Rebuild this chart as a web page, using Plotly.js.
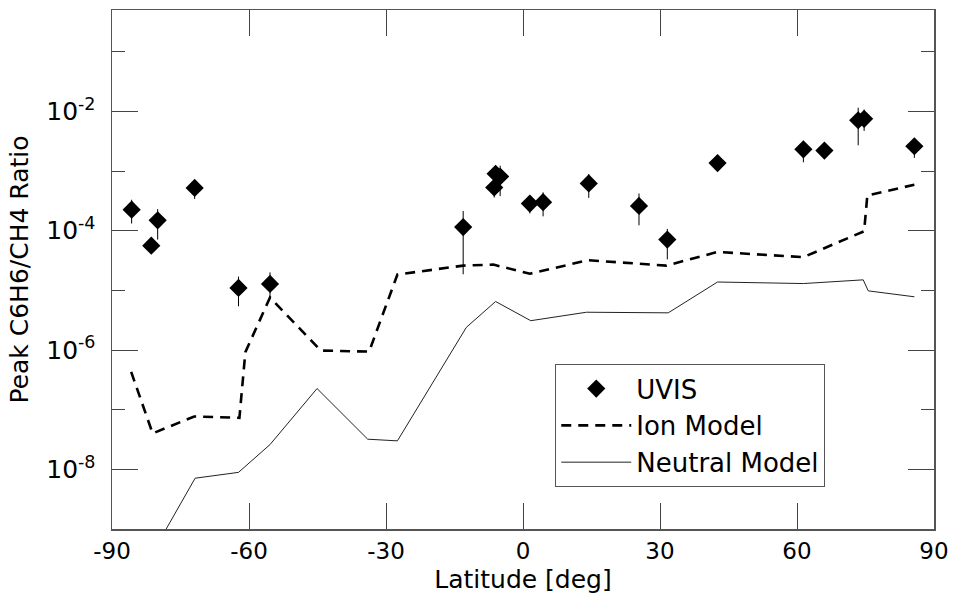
<!DOCTYPE html>
<html>
<head>
<meta charset="utf-8">
<script src="https://cdn.plot.ly/plotly-3.0.1.min.js"></script>
<style>html,body{margin:0;padding:0;background:#fff;}#chart{width:955px;height:594px;}</style>
</head>
<body>
<div id="chart"></div>
<script>
// UVIS observations
var uvisLat = [-85.7, -81.4, -80.0, -71.9, -62.3, -55.4, -13.1, -6.3, -6.0, -5.0, 1.5, 4.4, 14.4, 25.4, 31.6, 42.6, 61.4, 66.0, 73.4, 74.7, 85.7];
var uvisVal = [2.25e-4, 5.6e-5, 1.49e-4, 5.2e-4, 1.1e-5, 1.28e-5, 1.15e-4, 5.3e-4, 9.0e-4, 8.1e-4, 2.85e-4, 3.0e-4, 6.2e-4, 2.6e-4, 7.1e-5, 1.36e-3, 2.31e-3, 2.2e-3, 7.1e-3, 7.5e-3, 2.6e-3];
var uvisHi  = [3.3e-4, 6.3e-5, 2.3e-4, 6.9e-4, 1.7e-5, 2.0e-5, 2.14e-4, 6.5e-4, 1.23e-3, 1.23e-3, 3.6e-4, 4.4e-4, 8.9e-4, 4.2e-4, 1.07e-4, 1.5e-3, 3.2e-3, 2.6e-3, 1.15e-2, 1.07e-2, 3.5e-3];
var uvisLo  = [1.32e-4, 4.2e-5, 7.1e-5, 3.4e-4, 5.4e-6, 7.4e-6, 1.86e-5, 3.6e-4, 7.0e-4, 3.8e-4, 1.95e-4, 1.74e-4, 3.55e-4, 1.23e-4, 3.3e-5, 1.1e-3, 1.4e-3, 1.8e-3, 2.7e-3, 4.7e-3, 1.66e-3];

// Ion model
var ionLat = [-85.8, -81.1, -72.0, -62.1, -60.8, -55.4, -44.3, -33.7, -27.5, -13.1, -6.5, 1.5, 14.2, 31.4, 42.6, 61.4, 74.7, 75.4, 85.7];
var ionVal = [4.3e-7, 4.0e-8, 7.7e-8, 7.3e-8, 9.2e-7, 7.6e-6, 9.8e-7, 9.4e-7, 1.84e-5, 2.6e-5, 2.7e-5, 1.9e-5, 3.2e-5, 2.6e-5, 4.4e-5, 3.6e-5, 9.8e-5, 3.9e-4, 5.9e-4];

// Neutral model
var neuLat = [-81.1, -71.8, -62.3, -55.4, -45.1, -34.0, -27.5, -12.4, -6.0, 1.7, 13.9, 31.8, 42.6, 61.4, 74.5, 75.6, 85.7];
var neuVal = [4.0e-10, 7.1e-9, 8.9e-9, 2.6e-8, 2.26e-7, 3.2e-8, 3.0e-8, 2.4e-6, 6.5e-6, 3.1e-6, 4.3e-6, 4.2e-6, 1.38e-5, 1.3e-5, 1.5e-5, 9.8e-6, 7.8e-6];

// Axis ticks
var xTicks = [-90, -60, -30, 0, 30, 60, 90];
var xTickText = ['-90', '-60', '-30', '0', '30', '60', '90'];
var yMajor = [1e-8, 1e-6, 1e-4, 1e-2];
var yMajorText = ['10<sup>-8</sup>', '10<sup>-6</sup>', '10<sup>-4</sup>', '10<sup>-2</sup>'];
var yMinor = [1e-9, 1e-7, 1e-5, 1e-3, 1e-1];

var errPlus = uvisHi.map(function (h, i) { return h - uvisVal[i]; });
var errMinus = uvisLo.map(function (l, i) { return uvisVal[i] - l; });

var font = 'DejaVu Sans, Verdana, sans-serif';

var traces = [
  {
    x: uvisLat, y: uvisVal, name: 'UVIS', type: 'scatter', mode: 'markers',
    marker: {symbol: 'diamond', size: 14, color: '#000'},
    error_y: {type: 'data', symmetric: false, array: errPlus, arrayminus: errMinus,
              color: '#000', thickness: 1, width: 0}
  },
  {
    x: ionLat, y: ionVal, name: 'Ion Model', type: 'scatter', mode: 'lines',
    line: {color: '#000', width: 2.6, dash: '10px,7px'}
  },
  {
    x: neuLat, y: neuVal, name: 'Neutral Model', type: 'scatter', mode: 'lines',
    line: {color: '#222', width: 1}
  }
];

var layout = {
  width: 955, height: 594,
  margin: {l: 112, r: 21, t: 10, b: 65},
  paper_bgcolor: '#fff', plot_bgcolor: '#fff',
  font: {family: font, color: '#000', size: 24},
  showlegend: true,
  legend: {
    x: 0.539, y: 0.318, xanchor: 'left', yanchor: 'top',
    bordercolor: '#555', borderwidth: 1.2, bgcolor: '#fff',
    font: {family: font, size: 26, color: '#000'},
    itemwidth: 70, tracegroupgap: 0
  },
  xaxis: {
    range: [-90, 90], tickmode: 'array', tickvals: xTicks, ticktext: xTickText,
    ticks: 'inside', ticklen: 26, tickcolor: '#444', tickwidth: 1,
    showline: true, linecolor: '#555', linewidth: 1.5, mirror: 'ticks',
    showgrid: false, zeroline: false,
    tickfont: {family: font, size: 23, color: '#000'},
    ticklabelstandoff: 1,
    title: {text: 'Latitude [deg]', font: {family: font, size: 25, color: '#000'}, standoff: 8}
  },
  yaxis: {
    type: 'log', range: [-9, Math.log10(0.5)],
    tickmode: 'array', tickvals: yMajor, ticktext: yMajorText,
    ticks: 'inside', ticklen: 26, tickcolor: '#444', tickwidth: 1,
    minor: {tickmode: 'array', tickvals: yMinor, ticks: 'inside', ticklen: 13, tickcolor: '#444', tickwidth: 1, showgrid: false},
    showline: true, linecolor: '#555', linewidth: 1.5, mirror: 'ticks',
    showgrid: false, zeroline: false,
    tickfont: {family: font, size: 25, color: '#000'},
    ticklabelstandoff: 10,
    title: {text: 'Peak C6H6/CH4 Ratio', font: {family: font, size: 25, color: '#000'}, standoff: 10}
  }
};

Plotly.newPlot('chart', traces, layout, {staticPlot: true, displayModeBar: false});
</script>
</body>
</html>
